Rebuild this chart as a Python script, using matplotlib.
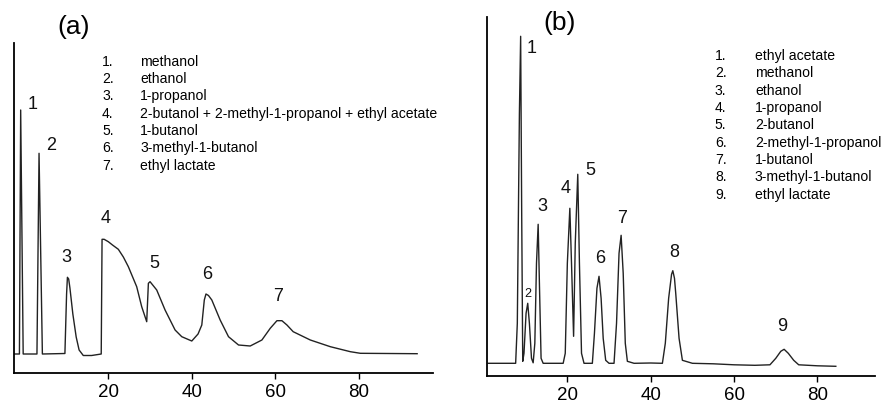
import matplotlib
matplotlib.use("Agg")
import matplotlib.pyplot as plt

plt.rcParams['font.family'] = ['Liberation Sans', 'DejaVu Sans']

# ---------------- data: panel (a) ----------------
time_a = [-2.6, -1.3, -1.0, -0.4, 2.9, 3.4, 4.2, 9.6, 10.0, 10.2, 10.5, 10.8, 11.5, 12.3, 13.0, 14.0, 16.0,
          18.3, 18.5, 19.0, 20.0, 21.0, 22.4, 23.6, 24.8, 26.8, 28.0, 29.2, 29.6, 30.0, 31.6, 33.6,
          36.0, 37.6, 40.0, 41.5, 42.4, 43.0, 43.4, 44.0, 44.8, 46.8, 48.8, 51.2, 54.0, 56.8, 58.8,
          60.4, 61.6, 62.8, 64.3, 68.4, 73.2, 78.0, 80.4, 94.0]
signal_a = [0, 0, 244, 0, 0, 200.7, 0, 0.5, 60, 76.7, 75, 66, 40, 17, 4, -1.5, -1.5,
            0, 114.7, 114.7, 112.3, 109, 104.7, 97, 87.3, 67.3, 47.3, 32.3, 70.7, 72.3, 64, 44,
            24, 17.3, 13, 20, 29, 54, 60, 58.5, 54, 34, 17.3, 9, 8, 14, 25.7,
            33.3, 33.3, 29, 22.3, 14, 7.3, 2.3, 0.7, 0.3]
peak_labels_a = ['1', '2', '3', '4', '5', '6', '7']
peak_label_x_a = [1.9, 6.2, 10.0, 19.3, 31.0, 43.7, 60.6]
peak_label_y_a = [250, 208.3, 96.3, 135.7, 90.7, 79.7, 57.3]
compounds_a = ['methanol', 'ethanol', '1-propanol',
               '2-butanol + 2-methyl-1-propanol + ethyl acetate',
               '1-butanol', '3-methyl-1-butanol', 'ethyl lactate']
xticks = [20, 40, 60, 80]

# ---------------- data: panel (b) ----------------
time_b = [1.0, 7.6, 8.0, 8.5, 8.8, 9.05, 9.3, 9.6, 10.1, 10.5, 10.9, 11.4, 11.8,
          12.2, 12.6, 13.0, 13.3, 13.7, 14.2, 19.0, 19.5, 20.0, 20.6, 21.0, 21.5,
          21.9, 22.5, 22.9, 23.4, 24.0, 26.0, 26.5, 27.1, 27.6, 28.1, 28.6, 29.2,
          30.0, 31.2, 31.8, 32.4, 32.9, 33.4, 33.9, 34.4, 36.0, 40.0, 42.8,
          43.5, 44.3, 45.0, 45.3, 45.7, 46.0, 46.8, 47.6, 50.0, 55.0, 60.0, 65.0, 68.6,
          70.0, 71.2, 72.0, 73.0, 74.3, 75.5, 80.0, 84.4]
signal_b = [0, 0, 40, 250, 327, 150, 2, 10, 50, 60, 40, 5, 0.5,
            20, 100, 139, 80, 5, 0, 0, 10, 100, 155, 100, 27,
            120, 189, 100, 10, 0, 0, 30, 75, 87, 65, 25, 3,
            0, 0, 40, 110, 128, 90, 20, 2, 0, 0.3, 0,
            20, 65, 89, 92.6, 85, 70, 25, 3, 0, -0.5, -1.5, -2, -1.5,
            5, 12, 14, 10, 3, -1.5, -2.5, -3]
peak_labels_b = ['1', '2', '3', '4', '5', '6', '7', '8', '9']
peak_label_x_b = [11.5, 10.5, 14.1, 19.5, 25.5, 27.8, 33.1, 45.6, 71.6]
peak_label_y_b = [315, 69.3, 156.6, 175, 193.3, 105, 145, 111, 36.6]
compounds_b = ['ethyl acetate', 'methanol', 'ethanol', '1-propanol', '2-butanol',
               '2-methyl-1-propanol', '1-butanol', '3-methyl-1-butanol', 'ethyl lactate']

W, H = 882, 403
fig = plt.figure(figsize=(W / 100, H / 100), dpi=100)


def px_axes(l, r, b, t):
    return fig.add_axes([l / W, (H - b) / H, (r - l) / W, (b - t) / H])


ax_a = px_axes(14, 433, 373.3, 42.7)
ax_b = px_axes(487.3, 875, 376, 16.7)

line_col = '#222222'
for ax in (ax_a, ax_b):
    for s in ('top', 'right'):
        ax.spines[s].set_visible(False)
    for s in ('left', 'bottom'):
        ax.spines[s].set_linewidth(1.3)
        ax.spines[s].set_color('black')
    ax.set_yticks([])
    ax.set_xticks(xticks)
    ax.set_xticklabels([str(v) for v in xticks])
    ax.tick_params(axis='x', direction='out', length=4, width=1.0, pad=4,
                   labelsize=13.5, colors='black')
    ax.set_facecolor('none')

# panel (a)
ax_a.plot(time_a, signal_a, color=line_col, lw=1.0)
ax_a.set_xlim(-2.6, 97.8)
ax_a.set_ylim(-19.3, 311.3)
for lab, x, y in zip(peak_labels_a, peak_label_x_a, peak_label_y_a):
    ax_a.text(x, y, lab, fontsize=13, ha='center', va='center', color='#111111')
ax_a.text(11.75, 327.3, '(a)', fontsize=19, ha='center', va='center', clip_on=False)
for i, name in enumerate(compounds_a):
    yy = 292.3 - 17.33 * i
    ax_a.text(18.5, yy, f'{i + 1}.', fontsize=10.1, ha='left', va='center')
    ax_a.text(27.6, yy, name, fontsize=10.1, ha='left', va='center', clip_on=False)

# panel (b)
ax_b.plot(time_b, signal_b, color=line_col, lw=1.0)
ax_b.set_xlim(0.8, 93.8)
ax_b.set_ylim(-12.7, 346.6)
for lab, x, y in zip(peak_labels_b, peak_label_x_b, peak_label_y_b):
    fs = 9 if lab == '2' else 13
    ax_b.text(x, y, lab, fontsize=fs, ha='center', va='center', color='#111111')
ax_b.text(18.1, 340, '(b)', fontsize=19, ha='center', va='center', clip_on=False)
for i, name in enumerate(compounds_b):
    yy = 307.3 - 17.33 * i
    ax_b.text(55.4, yy, f'{i + 1}.', fontsize=10.1, ha='left', va='center')
    ax_b.text(65.0, yy, name, fontsize=10.1, ha='left', va='center', clip_on=False)

fig.savefig('out.png', dpi=100)
